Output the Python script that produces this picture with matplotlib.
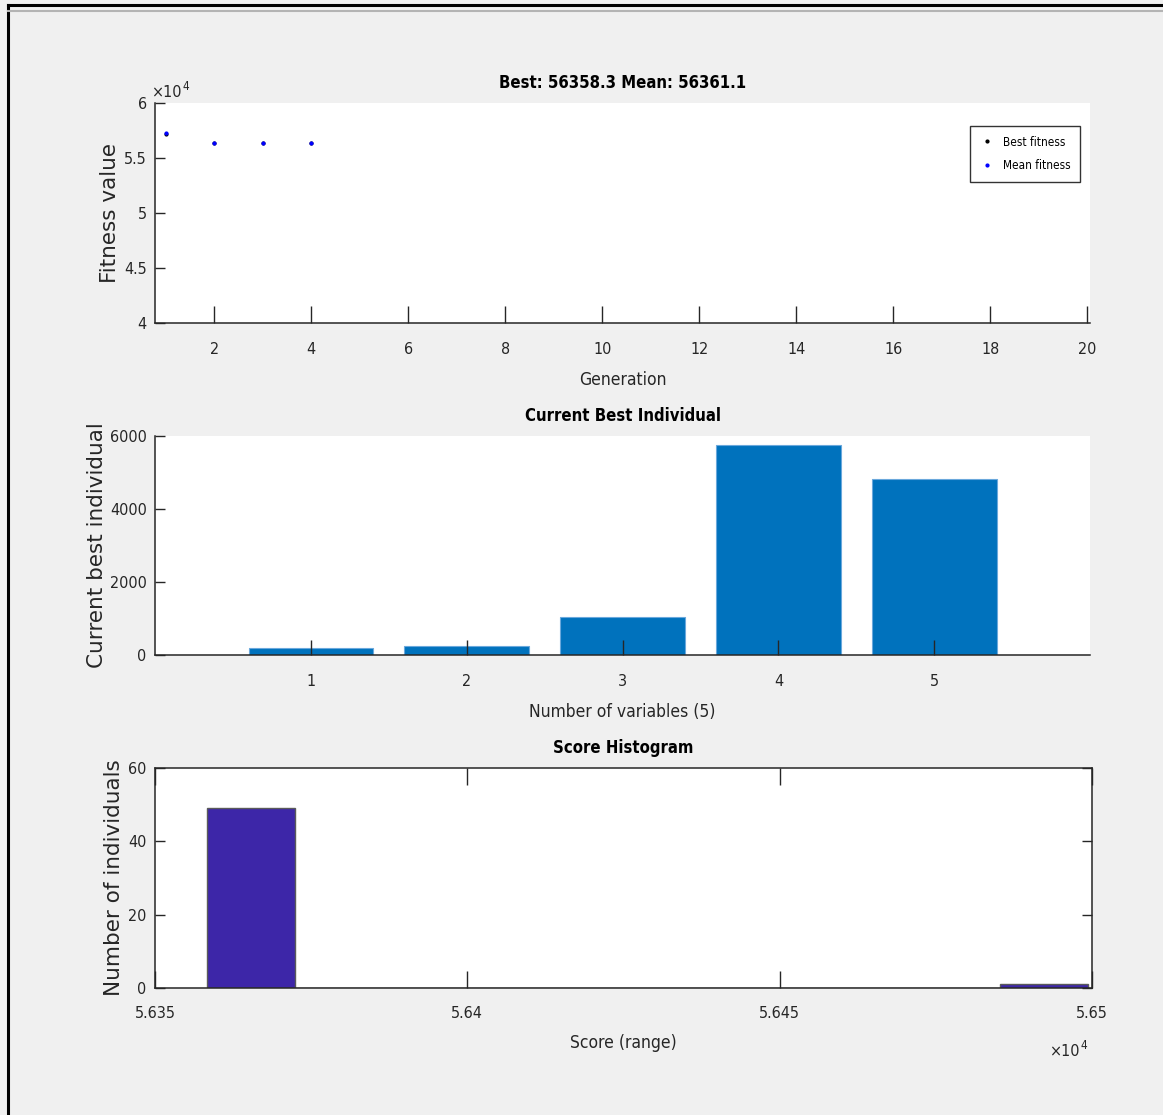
import numpy as np
import matplotlib
matplotlib.use("Agg")
import matplotlib.pyplot as plt
from matplotlib.lines import Line2D
from matplotlib.ticker import FuncFormatter

# GA run: fitness per generation
generations = [1, 2, 3, 4]
best_fitness = [57200, 56360, 56358.3, 56358.3]
mean_fitness = [57280, 56366, 56362, 56361.1]

# Current best individual (5 variables)
variables = [1, 2, 3, 4, 5]
best_individual = [185, 240, 1027, 5750, 4815]

# Score histogram (10 bins over the score range)
score_min = 56358.3
score_max = 56499.3
score_counts = [49, 0, 0, 0, 0, 0, 0, 0, 0, 1]

BG = "#f0f0f0"
AX_COLOR = "#262626"
YLABEL_FAMILY = ["DejaVu Sans"]

plt.rcParams["font.family"] = ["DejaVu Sans"]
plt.rcParams["font.stretch"] = "condensed"
plt.rcParams["axes.edgecolor"] = AX_COLOR
plt.rcParams["xtick.color"] = AX_COLOR
plt.rcParams["ytick.color"] = AX_COLOR
plt.rcParams["xtick.direction"] = "in"
plt.rcParams["ytick.direction"] = "in"

fig = plt.figure(figsize=(11.63, 11.15), dpi=100, facecolor=BG)

# window frame lines
fig.add_artist(Line2D([0.0065, 0.0065], [0.0, 0.9955], transform=fig.transFigure, color="black", lw=2.2))
fig.add_artist(Line2D([0.0065, 1.0], [0.9955, 0.9955], transform=fig.transFigure, color="black", lw=2.2))
fig.add_artist(Line2D([0.0065, 1.0], [0.9905, 0.9905], transform=fig.transFigure, color="#b4b4b4", lw=1.5))


def style_axes(ax, box=False):
    ax.set_facecolor("white")
    for side in ["left", "bottom", "top", "right"]:
        ax.spines[side].set_linewidth(1.1)
    if not box:
        ax.spines["top"].set_visible(False)
        ax.spines["right"].set_visible(False)
    ax.tick_params(labelsize=11.5, width=1.0)


def g_fmt(v, pos):
    return f"{v / 1e4:g}"


def exponent_label(ax, x, y, ha):
    # "x10^4" multiplier drawn in the same narrow face as the tick labels
    t = ax.text(x, y, "\u00d710", transform=ax.transAxes, fontsize=11.5, color=AX_COLOR,
                ha=ha, va="bottom")
    ax.annotate("4", xy=(1, 1), xycoords=t, xytext=(0.5, -1), textcoords="offset points",
                fontsize=8.5, color=AX_COLOR, ha="left", va="center")


# --- Plot 1: fitness value per generation
ax1 = fig.add_axes([0.1333, 0.7103, 0.8040, 0.1973])
style_axes(ax1)
ax1.plot(generations, best_fitness, ".", color="black", markersize=4, label="Best fitness")
ax1.plot(generations, mean_fitness, ".", color="#0000ff", markersize=4, label="Mean fitness")
ax1.set_xlim(0.78, 20.06)
ax1.set_ylim(40000, 60000)
ax1.set_xticks(range(2, 21, 2))
ax1.set_yticks([40000, 45000, 50000, 55000, 60000])
ax1.yaxis.set_major_formatter(FuncFormatter(g_fmt))
ax1.tick_params(axis="x", length=12, pad=14)
ax1.tick_params(axis="y", length=7, pad=6)
exponent_label(ax1, -0.004, 1.015, "left")
ax1.set_title("Best: 56358.3 Mean: 56361.1", fontsize=12, fontweight="bold", pad=11)
ax1.set_xlabel("Generation", fontsize=12.5, labelpad=10, color=AX_COLOR)
ax1.set_ylabel("Fitness value", fontsize=15.5, family=YLABEL_FAMILY, stretch="normal",
               labelpad=3, color=AX_COLOR)
leg = ax1.legend(loc="upper right", fontsize=8.5, frameon=True, fancybox=False,
                 edgecolor="black", handlelength=1.4, markerscale=1.0, borderaxespad=0,
                 borderpad=0.8, labelspacing=0.9, handletextpad=0.6,
                 bbox_to_anchor=(0.989, 0.895))
leg.get_frame().set_linewidth(1.0)

# --- Plot 2: current best individual
ax2 = fig.add_axes([0.1333, 0.4126, 0.8040, 0.1964])
style_axes(ax2)
ax2.bar(variables, best_individual, width=0.8, color="#0072bd", edgecolor="#6aa8dc", linewidth=0.8, zorder=2)
ax2.set_xlim(0, 6)
ax2.set_ylim(0, 6000)
ax2.set_xticks(variables)
ax2.set_yticks([0, 2000, 4000, 6000])
ax2.tick_params(axis="x", length=11, pad=14)
ax2.tick_params(axis="y", length=7, pad=6)
ax2.set_axisbelow(False)
ax2.set_title("Current Best Individual", fontsize=12, fontweight="bold", pad=11)
ax2.set_xlabel("Number of variables (5)", fontsize=12.5, labelpad=10, color=AX_COLOR)
ax2.set_ylabel("Current best individual", fontsize=15.5, family=YLABEL_FAMILY, stretch="normal",
               labelpad=2, color=AX_COLOR)

# --- Plot 3: score histogram
ax3 = fig.add_axes([0.1333, 0.1139, 0.8057, 0.1973])
style_axes(ax3, box=True)
edges = np.linspace(score_min, score_max, len(score_counts) + 1)
ax3.bar(edges[:-1], score_counts, width=np.diff(edges), align="edge",
        color="#3d26a8", edgecolor="#5a5a5a", linewidth=1.0, zorder=2)
ax3.set_xlim(56350, 56500)
ax3.set_ylim(0, 60)
ax3.set_xticks([56350, 56400, 56450, 56500])
ax3.xaxis.set_major_formatter(FuncFormatter(g_fmt))
ax3.set_yticks([0, 20, 40, 60])
ax3.tick_params(axis="x", length=12, pad=13, top=True)
ax3.tick_params(axis="y", length=7, pad=6, right=True)
ax3.set_axisbelow(False)
exponent_label(ax3, 0.987, -0.325, "right")
ax3.set_title("Score Histogram", fontsize=12, fontweight="bold", pad=11)
ax3.set_xlabel("Score (range)", fontsize=12.5, labelpad=9, color=AX_COLOR)
ax3.set_ylabel("Number of individuals", fontsize=15.5, family=YLABEL_FAMILY, stretch="normal",
               labelpad=3, color=AX_COLOR)

fig.savefig("out.png", dpi=100, facecolor=BG)
